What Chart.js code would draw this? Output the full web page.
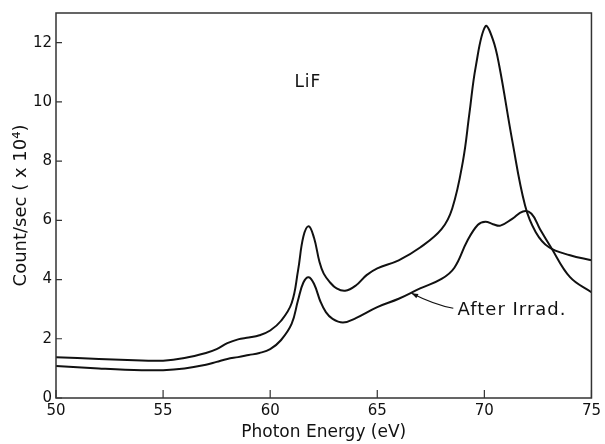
<!DOCTYPE html>
<html>
<head>
<meta charset="utf-8">
<script src="https://cdn.jsdelivr.net/npm/chart.js@4"></script>
<style>
  html, body { margin: 0; padding: 0; background: #ffffff; }
  #wrap { width: 605px; height: 444px; }
</style>
</head>
<body>
<div id="wrap"><canvas id="chart" width="605" height="444"></canvas></div>
<script>
// photon energy (eV) and count rate (x 10^4)
const energyBefore = [50, 52, 54, 55, 56, 57, 57.5, 58, 58.5, 59, 59.5, 60, 60.5, 61, 61.3, 61.55, 61.8, 62.05, 62.3, 62.5, 62.8, 63.1, 63.5, 64, 64.5, 65, 66, 67, 68, 68.5, 69, 69.3, 69.6, 70.05, 70.4, 70.7, 71.3, 71.9, 72.4, 73, 74, 75]
const countBefore = [1.38, 1.32, 1.27, 1.26, 1.35, 1.52, 1.65, 1.85, 1.98, 2.04, 2.12, 2.28, 2.6, 3.2, 4.3, 5.45, 5.8, 5.4, 4.6, 4.2, 3.9, 3.7, 3.62, 3.8, 4.15, 4.38, 4.65, 5.08, 5.7, 6.4, 8.0, 9.6, 11.2, 12.55, 12.1, 11.2, 8.7, 6.5, 5.6, 5.1, 4.82, 4.65]

const energyAfter = [50, 52, 54, 55, 56, 57, 57.5, 58, 58.5, 59, 59.5, 60, 60.5, 61, 61.3, 61.55, 61.8, 62.05, 62.35, 62.6, 62.9, 63.4, 64, 65, 66, 67, 68, 68.6, 69.2, 69.7, 70.05, 70.4, 70.75, 71.3, 71.8, 72.2, 72.6, 73.1, 74, 75]
const countAfter = [1.08, 1.0, 0.94, 0.94, 1.0, 1.12, 1.22, 1.32, 1.38, 1.45, 1.52, 1.65, 1.95, 2.5, 3.3, 3.9, 4.08, 3.85, 3.25, 2.9, 2.68, 2.55, 2.7, 3.07, 3.35, 3.7, 4.02, 4.4, 5.3, 5.85, 5.95, 5.87, 5.82, 6.05, 6.3, 6.22, 5.7, 5.1, 4.08, 3.57]

const xTicks = [50, 55, 60, 65, 70, 75]
const yTicks = [0, 2, 4, 6, 8, 10, 12]

const sampleLabel = {text: 'LiF', x: 61.76, y: 10.65}
const afterLabel = {text: 'After Irrad.', x: 68.75, y: 2.97}
const arrowFrom = {x: 68.55, y: 3.03}
const arrowTo = {x: 66.6, y: 3.54}

function toPoints(xs, ys) {
    let pts = []
    xs.forEach((x, i) => pts.push({x: x, y: ys[i]}))
    return pts
}

const FONT = "'DejaVu Sans', sans-serif"

// frame, inward tick marks and the text labels
const extras = {
    id: 'extras',
    afterDraw(chart) {
        const ctx = chart.ctx
        const a = chart.chartArea
        const xs = chart.scales.x
        const ys = chart.scales.y
        ctx.save()
        ctx.strokeStyle = '#333333'
        ctx.lineWidth = 1.5
        ctx.strokeRect(a.left, a.top, a.right - a.left, a.bottom - a.top)

        ctx.lineWidth = 1.2
        ctx.beginPath()
        xTicks.forEach(v => {
            const px = xs.getPixelForValue(v)
            ctx.moveTo(px, a.bottom)
            ctx.lineTo(px, a.bottom - 8)
        })
        yTicks.forEach(v => {
            const py = ys.getPixelForValue(v)
            ctx.moveTo(a.left, py)
            ctx.lineTo(a.left + 6, py)
        })
        ctx.stroke()

        ctx.fillStyle = '#111111'
        ctx.textBaseline = 'middle'
        ctx.font = '17px ' + FONT
        ctx.letterSpacing = '1px'
        ctx.textAlign = 'center'
        ctx.fillText(sampleLabel.text, xs.getPixelForValue(sampleLabel.x), ys.getPixelForValue(sampleLabel.y))
        ctx.font = '18px ' + FONT
        ctx.letterSpacing = '1px'
        ctx.textAlign = 'left'
        ctx.fillText(afterLabel.text, xs.getPixelForValue(afterLabel.x), ys.getPixelForValue(afterLabel.y))
        ctx.letterSpacing = '0px'

        // arrow pointing at the irradiated curve
        const x0 = xs.getPixelForValue(arrowFrom.x), y0 = ys.getPixelForValue(arrowFrom.y)
        const x1 = xs.getPixelForValue(arrowTo.x), y1 = ys.getPixelForValue(arrowTo.y)
        const cx = (x0 + x1) / 2 + 2, cy = (y0 + y1) / 2 + 4
        ctx.strokeStyle = '#111111'
        ctx.lineWidth = 1.2
        ctx.beginPath()
        ctx.moveTo(x0, y0)
        ctx.quadraticCurveTo(cx, cy, x1, y1)
        ctx.stroke()
        const ang = Math.atan2(y1 - cy, x1 - cx)
        ctx.beginPath()
        ctx.moveTo(x1, y1)
        ctx.lineTo(x1 - 7 * Math.cos(ang - 0.35), y1 - 7 * Math.sin(ang - 0.35))
        ctx.lineTo(x1 - 7 * Math.cos(ang + 0.35), y1 - 7 * Math.sin(ang + 0.35))
        ctx.closePath()
        ctx.fillStyle = '#111111'
        ctx.fill()
        ctx.restore()
    }
}

const ctx = document.getElementById('chart')

new Chart(ctx, {
    type: 'line',
    data: {
        datasets: [{
            label: 'Before',
            data: toPoints(energyBefore, countBefore),
            borderColor: '#111111',
            borderWidth: 2,
            pointRadius: 0,
            tension: 0.4
        }, {
            label: 'After Irrad.',
            data: toPoints(energyAfter, countAfter),
            borderColor: '#111111',
            borderWidth: 2,
            pointRadius: 0,
            tension: 0.4
        }]
    },
    options: {
        responsive: false,
        animation: false,
        layout: {
            padding: {left: 0, right: 11, top: 13, bottom: 0}
        },
        scales: {
            x: {
                type: 'linear',
                min: 50,
                max: 75,
                afterBuildTicks: scale => { scale.ticks = xTicks.map(v => ({value: v})) },
                afterFit: scale => { scale.height = 46 },
                grid: {display: false, drawTicks: false},
                border: {display: false},
                ticks: {
                    color: '#111111',
                    font: {family: FONT, size: 15},
                    padding: 4,
                    maxRotation: 0
                },
                title: {
                    display: true,
                    text: 'Photon Energy (eV)',
                    color: '#111111',
                    font: {family: FONT, size: 17},
                    padding: {top: 0, bottom: 1}
                }
            },
            y: {
                type: 'linear',
                min: 0,
                max: 13,
                afterBuildTicks: scale => { scale.ticks = yTicks.map(v => ({value: v})) },
                afterFit: scale => { scale.width = 56 },
                grid: {display: false, drawTicks: false},
                border: {display: false},
                ticks: {
                    color: '#111111',
                    font: {family: FONT, size: 15},
                    padding: 4
                },
                title: {
                    display: true,
                    text: 'Count/sec ( x 10⁴)',
                    color: '#111111',
                    font: {family: FONT, size: 18},
                    padding: {top: 11, bottom: 0}
                }
            }
        },
        plugins: {
            legend: {display: false},
            tooltip: {enabled: false}
        }
    },
    plugins: [extras]
})
</script>
</body>
</html>
